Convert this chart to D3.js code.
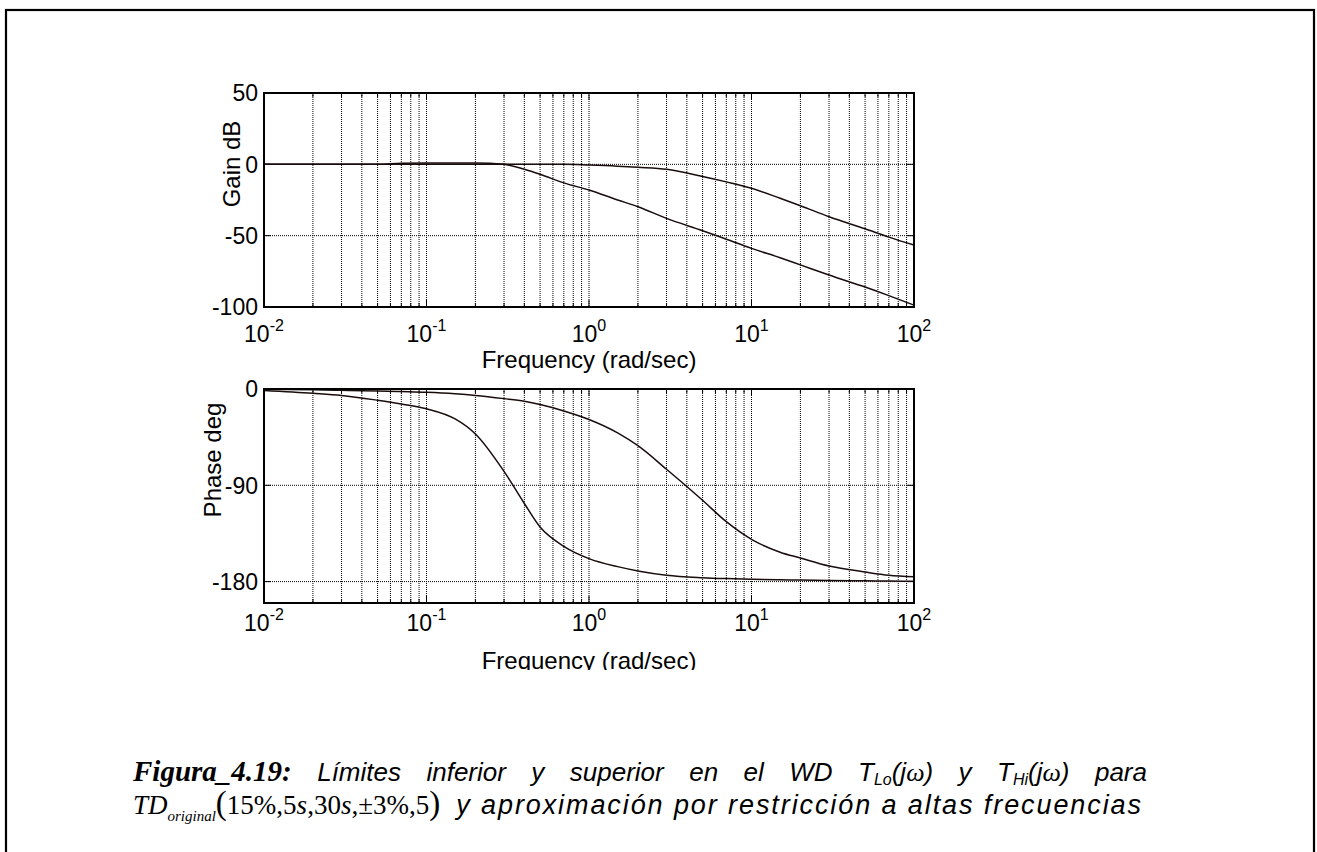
<!DOCTYPE html>
<html>
<head>
<meta charset="utf-8">
<script src="https://cdn.jsdelivr.net/npm/d3@7/dist/d3.min.js"></script>
<style>
  html, body { margin: 0; padding: 0; background: #fff; }
  svg { display: block; }
</style>
</head>
<body>
<script>
// ---------------- DATA ----------------
const freq      = [0.01,0.02,0.03,0.05,0.07,0.1,0.15,0.2,0.3,0.4,0.5,0.7,1,1.5,2,3,5,7,10,15,20,30,50,70,100];
const gainLo    = [0,0,0,0,0.8,1,1,1,0,-3.5,-7,-13,-18,-25,-29.7,-37.9,-46.5,-52.5,-58.9,-65.5,-70.5,-77.6,-86,-92,-98.7];
const gainHi    = [0,0,0,0,0,0,0,0,0,0,0,0,-0.5,-1.3,-2.1,-3.5,-8.5,-12.3,-16.8,-23.8,-29,-36.7,-45.2,-51,-56.6];
const phaseLo   = [-1.3,-4,-6,-10.5,-14,-18.5,-28,-42,-77,-107,-129,-147,-158.5,-166,-170,-174,-176.3,-177.2,-177.9,-178.3,-178.6,-179,-179.3,-179.5,-179.7];
const phaseHi   = [-0.3,-0.8,-1.2,-1.8,-2.4,-3.1,-4.5,-6,-9,-11.5,-14.5,-20.5,-28.5,-41,-53,-75,-104,-124,-140.5,-152.5,-158,-165.5,-171,-174,-175.4];
const gainTicks  = [50,0,-50,-100];
const phaseTicks = [0,-90,-180];
const decadeExps = [-2,-1,0,1,2];
const xLabel = "Frequency (rad/sec)";
const gainLabel = "Gain dB";
const phaseLabel = "Phase deg";

// ---------------- LAYOUT ----------------
const W = 1317, H = 852;
const L = 264, R = 914;
const top1 = 93, bot1 = 307;
const top2 = 389, bot2 = 603;
const FONT = "'Liberation Sans', Arial, sans-serif";
const SERIF = "'Liberation Serif', 'Times New Roman', serif";

const svg = d3.select("body").append("svg").attr("width", W).attr("height", H);

// outer frame
svg.append("rect").attr("x", 6).attr("y", 10).attr("width", 1308).attr("height", 900)
  .attr("fill", "none").attr("stroke", "#000").attr("stroke-width", 2.2);

const x = d3.scaleLog().domain([0.01, 100]).range([L, R]);
const yG = d3.scaleLinear().domain([-100, 50]).range([bot1, top1]);
const yP = d3.scaleLinear().domain([-200, 0]).range([bot2, top2]);

svg.append("clipPath").attr("id", "labclip").append("rect")
  .attr("x", 0).attr("y", 0).attr("width", W).attr("height", 670);

function panel(y, yTicks, yLab, labPos, s1, s2, tickBase, xlabBase, clip) {
  const g = svg.append("g");
  const [yb, yt] = y.range();
  const xt = x.ticks();
  // vertical grid (major + minor)
  g.selectAll("line.vg").data(xt).join("line")
    .attr("x1", d => x(d)).attr("x2", d => x(d)).attr("y1", yt).attr("y2", yb)
    .attr("stroke", "#000").attr("stroke-width", 1).attr("stroke-dasharray", "1,1");
  // horizontal grid
  g.selectAll("line.hg").data(yTicks).join("line")
    .attr("x1", L).attr("x2", R).attr("y1", d => y(d)).attr("y2", d => y(d))
    .attr("stroke", "#000").attr("stroke-width", 1).attr("stroke-dasharray", "1,1");
  // ticks inside
  g.selectAll("line.ytl").data(yTicks).join("line")
    .attr("x1", L).attr("x2", L + 7).attr("y1", d => y(d)).attr("y2", d => y(d))
    .attr("stroke", "#000").attr("stroke-width", 1);
  g.selectAll("line.ytr").data(yTicks).join("line")
    .attr("x1", R - 7).attr("x2", R).attr("y1", d => y(d)).attr("y2", d => y(d))
    .attr("stroke", "#000").attr("stroke-width", 1);
  const isMajor = d => Math.abs(Math.log10(d) - Math.round(Math.log10(d))) < 1e-9;
  g.selectAll("line.xtb").data(xt).join("line")
    .attr("x1", d => x(d)).attr("x2", d => x(d)).attr("y1", yb).attr("y2", d => yb - (isMajor(d) ? 7 : 4))
    .attr("stroke", "#000").attr("stroke-width", 1);
  g.selectAll("line.xtt").data(xt).join("line")
    .attr("x1", d => x(d)).attr("x2", d => x(d)).attr("y1", yt).attr("y2", d => yt + (isMajor(d) ? 7 : 4))
    .attr("stroke", "#000").attr("stroke-width", 1);

  // curves
  const line = d3.line().x((d, i) => x(freq[i])).y(d => y(d)).curve(d3.curveMonotoneX);
  [s1, s2].forEach(s => {
    g.append("path").attr("d", line(s)).attr("fill", "none")
      .attr("stroke", "#1a0c0c").attr("stroke-width", 1.5);
  });

  // box
  g.append("rect").attr("x", L).attr("y", yt).attr("width", R - L).attr("height", yb - yt)
    .attr("fill", "none").attr("stroke", "#000").attr("stroke-width", 2);

  // y tick labels
  g.selectAll("text.yl").data(yTicks).join("text")
    .attr("x", L - 6).attr("y", d => y(d)).attr("dy", "0.36em")
    .attr("text-anchor", "end").attr("font-family", FONT).attr("font-size", 23)
    .text(d => d);

  // x tick labels with superscripts
  decadeExps.forEach(e => {
    const t = g.append("text").attr("x", x(Math.pow(10, e))).attr("y", tickBase)
      .attr("text-anchor", "middle").attr("font-family", FONT).attr("font-size", 23);
    t.append("tspan").text("10");
    t.append("tspan").attr("dy", -11).attr("font-size", 16).text(e);
  });

  // x label
  const xl = g.append("text").attr("x", (L + R) / 2).attr("y", xlabBase)
    .attr("text-anchor", "middle").attr("font-family", FONT).attr("font-size", 24)
    .text(xLabel);
  if (clip) xl.attr("clip-path", "url(#labclip)");

  // y label
  g.append("text").attr("transform", `translate(${labPos[0]},${labPos[1]}) rotate(-90)`)
    .attr("text-anchor", "middle").attr("font-family", FONT).attr("font-size", 24)
    .text(yLab);
}

panel(yG, gainTicks, gainLabel, [240, 164], gainLo, gainHi, 342, 368, false);
panel(yP, phaseTicks, phaseLabel, [221, 460], phaseLo, phaseHi, 631, 669, true);

// ---------------- CAPTION ----------------
const capL = 133, capR = 1147;
const line1 = [
  [{t: "Figura_4.19:", f: SERIF, s: 29, w: "bold"}],
  [{t: "Límites"}], [{t: "inferior"}], [{t: "y"}], [{t: "superior"}], [{t: "en"}], [{t: "el"}], [{t: "WD"}],
  [{t: "T"}, {t: "Lo", s: 16, dy: 4}, {t: "(j", dy: -4}, {t: "ω", f: SERIF}, {t: ")"}],
  [{t: "y"}],
  [{t: "T"}, {t: "Hi", s: 16, dy: 4}, {t: "(j", dy: -4}, {t: "ω", f: SERIF}, {t: ")"}],
  [{t: "para"}]
];
function addWord(parent, parts, xpos, ybase) {
  const t = parent.append("text").attr("x", xpos).attr("y", ybase)
    .attr("font-family", FONT).attr("font-size", 26).attr("font-style", "italic");
  parts.forEach(p => {
    const ts = t.append("tspan").text(p.t);
    if (p.f) ts.attr("font-family", p.f);
    if (p.s) ts.attr("font-size", p.s);
    if (p.w) ts.attr("font-weight", p.w);
    if (p.dy) ts.attr("dy", p.dy);
  });
  return t;
}
const capG = svg.append("g");
const words = line1.map(w => addWord(capG, w, 0, 781));
const widths = words.map(w => w.node().getComputedTextLength());
const total = d3.sum(widths);
const gap = (capR - capL - total) / (words.length - 1);
let cx = capL;
words.forEach((w, i) => { w.attr("x", cx); cx += widths[i] + gap; });

// line 2 : formula part
const base2 = 814;
const l2 = capG.append("text").attr("x", capL).attr("y", base2)
  .attr("font-family", SERIF).attr("font-size", 27);
l2.append("tspan").attr("font-style", "italic").text("TD");
l2.append("tspan").attr("font-style", "italic").attr("font-size", 15).attr("dy", 7).text("original");
l2.append("tspan").attr("font-size", 33).attr("dy", -7).text("(");
l2.append("tspan").text("15%,5");
l2.append("tspan").attr("font-style", "italic").text("s");
l2.append("tspan").text(",30");
l2.append("tspan").attr("font-style", "italic").text("s");
l2.append("tspan").text(",±3%,5");
l2.append("tspan").attr("font-size", 33).text(")");
const l2w = l2.node().getComputedTextLength();
// line 2 : text part
const t2x = capL + l2w + 16;
capG.append("text").attr("x", t2x).attr("y", base2)
  .attr("font-family", FONT).attr("font-size", 27).attr("font-style", "italic")
  .attr("textLength", capR - 6 - t2x).attr("lengthAdjust", "spacing")
  .text("y aproximación por restricción a altas frecuencias");
</script>
</body>
</html>
